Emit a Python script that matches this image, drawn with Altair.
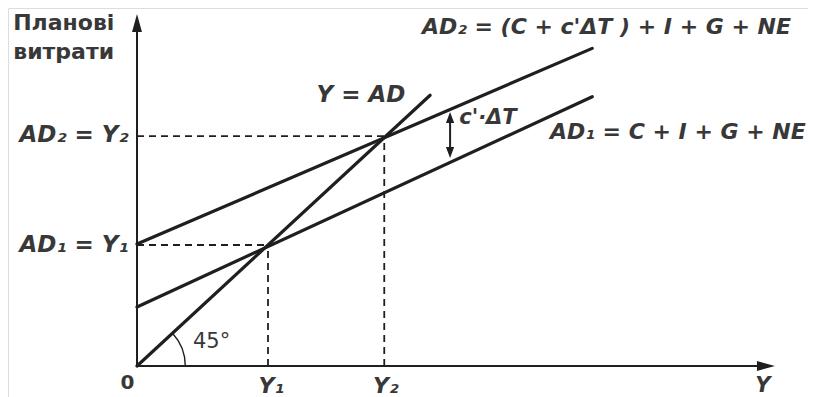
import altair as alt
import pandas as pd

# ---------------- data (data units; the 45-degree line is Y = AD) ----------------
Y1 = 40.0          # equilibrium output 1
Y2 = 75.5          # equilibrium output 2
AD1_LEVEL = 40.0   # AD1 = Y1
AD2_LEVEL = 76.0   # AD2 = Y2

line_names = ["AD1", "AD2", "Y = AD"]
line_x_start = [0.0, 0.0, 0.0]
line_y_start = [19.5, 40.3, 0.0]
line_x_end = [139.0, 139.0, 89.5]
line_y_end = [89.0, 105.0, 89.5]

X_AXIS_END = 194.8
Y_AXIS_END = 116.4

SHIFT_X = 95.6       # position of the c'·ΔT double arrow
SHIFT_TOP = 84.0
SHIFT_BOTTOM = 68.8

ANGLE_START = 0.826  # 45-degree arc (radians, clockwise from 12 o'clock)
ANGLE_END = 1.5708

label_texts = ["Планові", "витрати", "AD₂ = Y₂", "AD₁ = Y₁", "0", "Y₁", "Y₂", "Y",
               "Y = AD", "AD₂ = (C + c'ΔT ) + I + G + NE", "AD₁ = C + I + G + NE",
               "c'·ΔT", "45°"]
label_x = [-37.8, -37.8, -2.6, -2.6, -2.9, 41.0, 76.0, 191.1,
           68.4, 87.0, 126.1, 98.4, 17.1]
label_y = [111.0, 101.6, 76.4, 40.0, -5.6, -6.6, -6.6, -6.6,
           89.6, 112.1, 77.4, 82.0, 7.9]
label_align = ["left", "left", "right", "right", "center", "center", "center", "center",
               "center", "left", "left", "left", "left"]
label_baseline = ["alphabetic", "alphabetic", "middle", "middle", "middle", "middle", "middle", "middle",
                  "middle", "middle", "middle", "middle", "middle"]
label_size = [22, 22, 23, 23, 20, 22, 22, 21, 23, 22, 22, 21, 21]
label_weight = ["bold", "bold", "bold", "bold", "bold", "bold", "bold", "bold",
                "bold", "bold", "bold", "bold", "normal"]
label_style = ["normal", "normal", "italic", "italic", "normal", "italic", "italic", "italic",
               "italic", "italic", "italic", "italic", "normal"]

# ---------------- scales ----------------
W, H = 800, 389
X_DOMAIN = [-39.39, 204.89]
Y_DOMAIN = [-10.25, 118.35]
xs = alt.Scale(domain=X_DOMAIN, nice=False, zero=False)
ys = alt.Scale(domain=Y_DOMAIN, nice=False, zero=False)

INK = "#1f1f1f"
TEXT = "#383838"
FONT = "DejaVu Sans"

lines_df = pd.DataFrame({"name": line_names, "x": line_x_start, "y": line_y_start,
                         "x2": line_x_end, "y2": line_y_end})
lines = alt.Chart(lines_df).mark_rule(color=INK, strokeWidth=3.2, strokeCap="round").encode(
    x=alt.X("x:Q", scale=xs, axis=None), y=alt.Y("y:Q", scale=ys, axis=None),
    x2="x2:Q", y2="y2:Q")

dash_df = pd.DataFrame({
    "x": [0.0, 0.0, Y1, Y2], "x2": [Y1, Y2, Y1, Y2],
    "y": [AD1_LEVEL, AD2_LEVEL, 0.0, 0.0], "y2": [AD1_LEVEL, AD2_LEVEL, AD1_LEVEL, AD2_LEVEL]})
dashes = alt.Chart(dash_df).mark_rule(color=INK, strokeWidth=1.8, strokeDash=[7, 5]).encode(
    x="x:Q", y="y:Q", x2="x2:Q", y2="y2:Q")

axes_df = pd.DataFrame({"x": [0.0, 0.0], "x2": [X_AXIS_END - 3, 0.0],
                        "y": [0.0, 0.0], "y2": [0.0, Y_AXIS_END - 3]})
axes = alt.Chart(axes_df).mark_rule(color=INK, strokeWidth=2).encode(
    x="x:Q", y="y:Q", x2="x2:Q", y2="y2:Q")

up_arrow = alt.Chart(pd.DataFrame({"x": [0.0], "y": [Y_AXIS_END]})).mark_point(
    shape="M0,0L0.55,2L-0.55,2Z", size=324, filled=True, opacity=1, color=INK, strokeWidth=0
).encode(x="x:Q", y="y:Q")
right_arrow = alt.Chart(pd.DataFrame({"x": [X_AXIS_END], "y": [0.0]})).mark_point(
    shape="M0,0L-2,-0.55L-2,0.55Z", size=324, filled=True, opacity=1, color=INK, strokeWidth=0
).encode(x="x:Q", y="y:Q")

shift_line = alt.Chart(pd.DataFrame({"x": [SHIFT_X], "y": [SHIFT_BOTTOM + 2], "y2": [SHIFT_TOP - 2]})).mark_rule(
    color=INK, strokeWidth=2).encode(x="x:Q", y="y:Q", y2="y2:Q")
shift_up = alt.Chart(pd.DataFrame({"x": [SHIFT_X], "y": [SHIFT_TOP]})).mark_point(
    shape="M0,0L0.75,2L-0.75,2Z", size=121, filled=True, opacity=1, color=INK, strokeWidth=0
).encode(x="x:Q", y="y:Q")
shift_down = alt.Chart(pd.DataFrame({"x": [SHIFT_X], "y": [SHIFT_BOTTOM]})).mark_point(
    shape="M0,0L0.75,-2L-0.75,-2Z", size=121, filled=True, opacity=1, color=INK, strokeWidth=0
).encode(x="x:Q", y="y:Q")

arc = alt.Chart(pd.DataFrame({"x": [0.0], "y": [0.0]})).mark_arc(
    radius=49, radius2=47.6, theta=ANGLE_START, theta2=ANGLE_END, color=INK
).encode(x="x:Q", y="y:Q")

labels_df = pd.DataFrame({"text": label_texts, "x": label_x, "y": label_y,
                          "align": label_align, "baseline": label_baseline,
                          "size": label_size, "weight": label_weight, "style": label_style})
text_layers = []
for i, row in labels_df.iterrows():
    text_layers.append(
        alt.Chart(labels_df.iloc[[i]]).mark_text(
            align=row["align"], baseline=row["baseline"], fontSize=int(row["size"]),
            fontWeight=row["weight"], fontStyle=row["style"], font=FONT, color=TEXT
        ).encode(x="x:Q", y="y:Q", text="text:N")
    )

chart = alt.layer(lines, dashes, axes, up_arrow, right_arrow, shift_line, shift_up, shift_down,
                  arc, *text_layers).properties(
    width=W, height=H, autosize=alt.AutoSizeParams(type="none"), padding=0
).configure_view(stroke=None).configure(background="white")

chart.save("out.html", embed_options={"renderer": "svg", "actions": False})
